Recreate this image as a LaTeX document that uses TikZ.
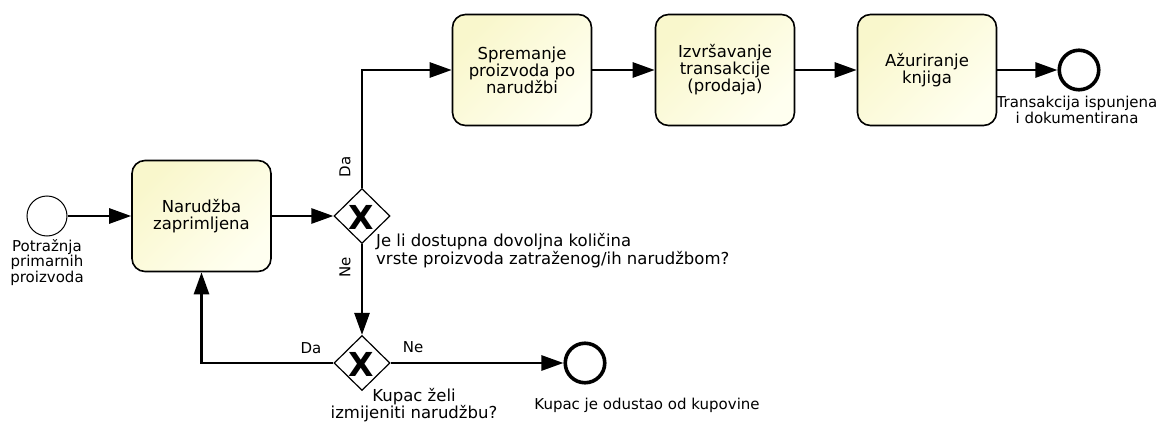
\documentclass[tikz,border=0pt]{standalone}
\usepackage{fontspec}
\setmainfont{DejaVu Sans}
\usetikzlibrary{arrows.meta,shapes.geometric,calc}
\definecolor{ytl}{RGB}{249,247,204}
\definecolor{ybr}{RGB}{255,255,240}
\tikzset{
  task/.style={draw=black, line width=1.6pt, rounded corners=13pt, minimum width=139pt, minimum height=111pt,
    top color=ytl, bottom color=ybr, shading angle=45, align=center, inner sep=0pt,
    font=\fontsize{16.5}{17}\selectfont},
  startev/.style={draw=black, line width=1pt, circle, minimum size=40pt, inner sep=0pt, fill=white},
  endev/.style={draw=black, line width=3.6pt, circle, minimum size=39.5pt, inner sep=0pt, fill=white},
  gate/.style={draw=black, line width=1.2pt, diamond, minimum width=56pt, minimum height=55pt, inner sep=0pt, fill=white},
  xmark/.style={font=\fontsize{33}{33}\selectfont\bfseries, inner sep=0pt},
  lbl/.style={font=\fontsize{15}{15.5}\selectfont, align=center, inner sep=0pt},
  glbl/.style={font=\fontsize{16.5}{16.5}\selectfont, align=center, inner sep=0pt},
  flow/.style={line width=2.7pt, -{Triangle[length=22pt,width=15pt]}},
}
\begin{document}
\begin{tikzpicture}[x=1pt,y=-1pt]
\useasboundingbox (0,0) rectangle (1162,423);
% nodes
\node[startev] (start) at (47,216) {};
\node[task] (t1) at (201.5,216) {Narudžba\\zaprimljena};
\node[gate] (g1) at (362,216) {};
\node[xmark] (g1x) at (361.5,217.5) {X};
\node[task] (t2) at (522,70) {Spremanje\\proizvoda po\\narudžbi};
\node[task] (t3) at (725,70) {Izvršavanje\\transakcije\\(prodaja)};
\node[task] (t4) at (927,70) {Ažuriranje\\knjiga};
\node[endev] (e1) at (1079,70) {};
\node[gate] (g2) at (362,363) {};
\node[xmark] (g2x) at (361.5,364.5) {X};
\node[endev] (e2) at (585,363) {};
% labels
\node[lbl, anchor=north] (lstart) at (47,239) {Potražnja\\primarnih\\proizvoda};
\node[lbl] (le1) at (1077,110) {Transakcija ispunjena\\i dokumentirana};
\node[glbl, align=left, anchor=north west] (lg1) at (376,233) {Je li dostupna dovoljna količina\\vrste proizvoda zatraženog/ih narudžbom?};
\node[glbl] (lg2) at (414,405) {Kupac želi\\izmijeniti narudžbu?};
\node[lbl] (le2) at (647,405) {Kupac je odustao od kupovine};
\node[lbl, rotate=90] (lda1) at (345,167) {Da};
\node[lbl, rotate=90] (lne1) at (345,267) {Ne};
\node[lbl] (lda2) at (311,348) {Da};
\node[lbl] (lne2) at (413,347) {Ne};
% connectors
\draw[flow] (start) -- (t1);
\draw[flow] (t1) -- (g1);
\draw[flow] (g1.north) |- (t2.west);
\draw[flow] (t2) -- (t3);
\draw[flow] (t3) -- (t4);
\draw[flow] (t4) -- (e1);
\draw[flow] (g1.south) -- (g2.north);
\draw[flow] (g2.west) -| (t1.south);
\draw[flow] (g2.east) -- (e2.west);
\end{tikzpicture}
\end{document}
